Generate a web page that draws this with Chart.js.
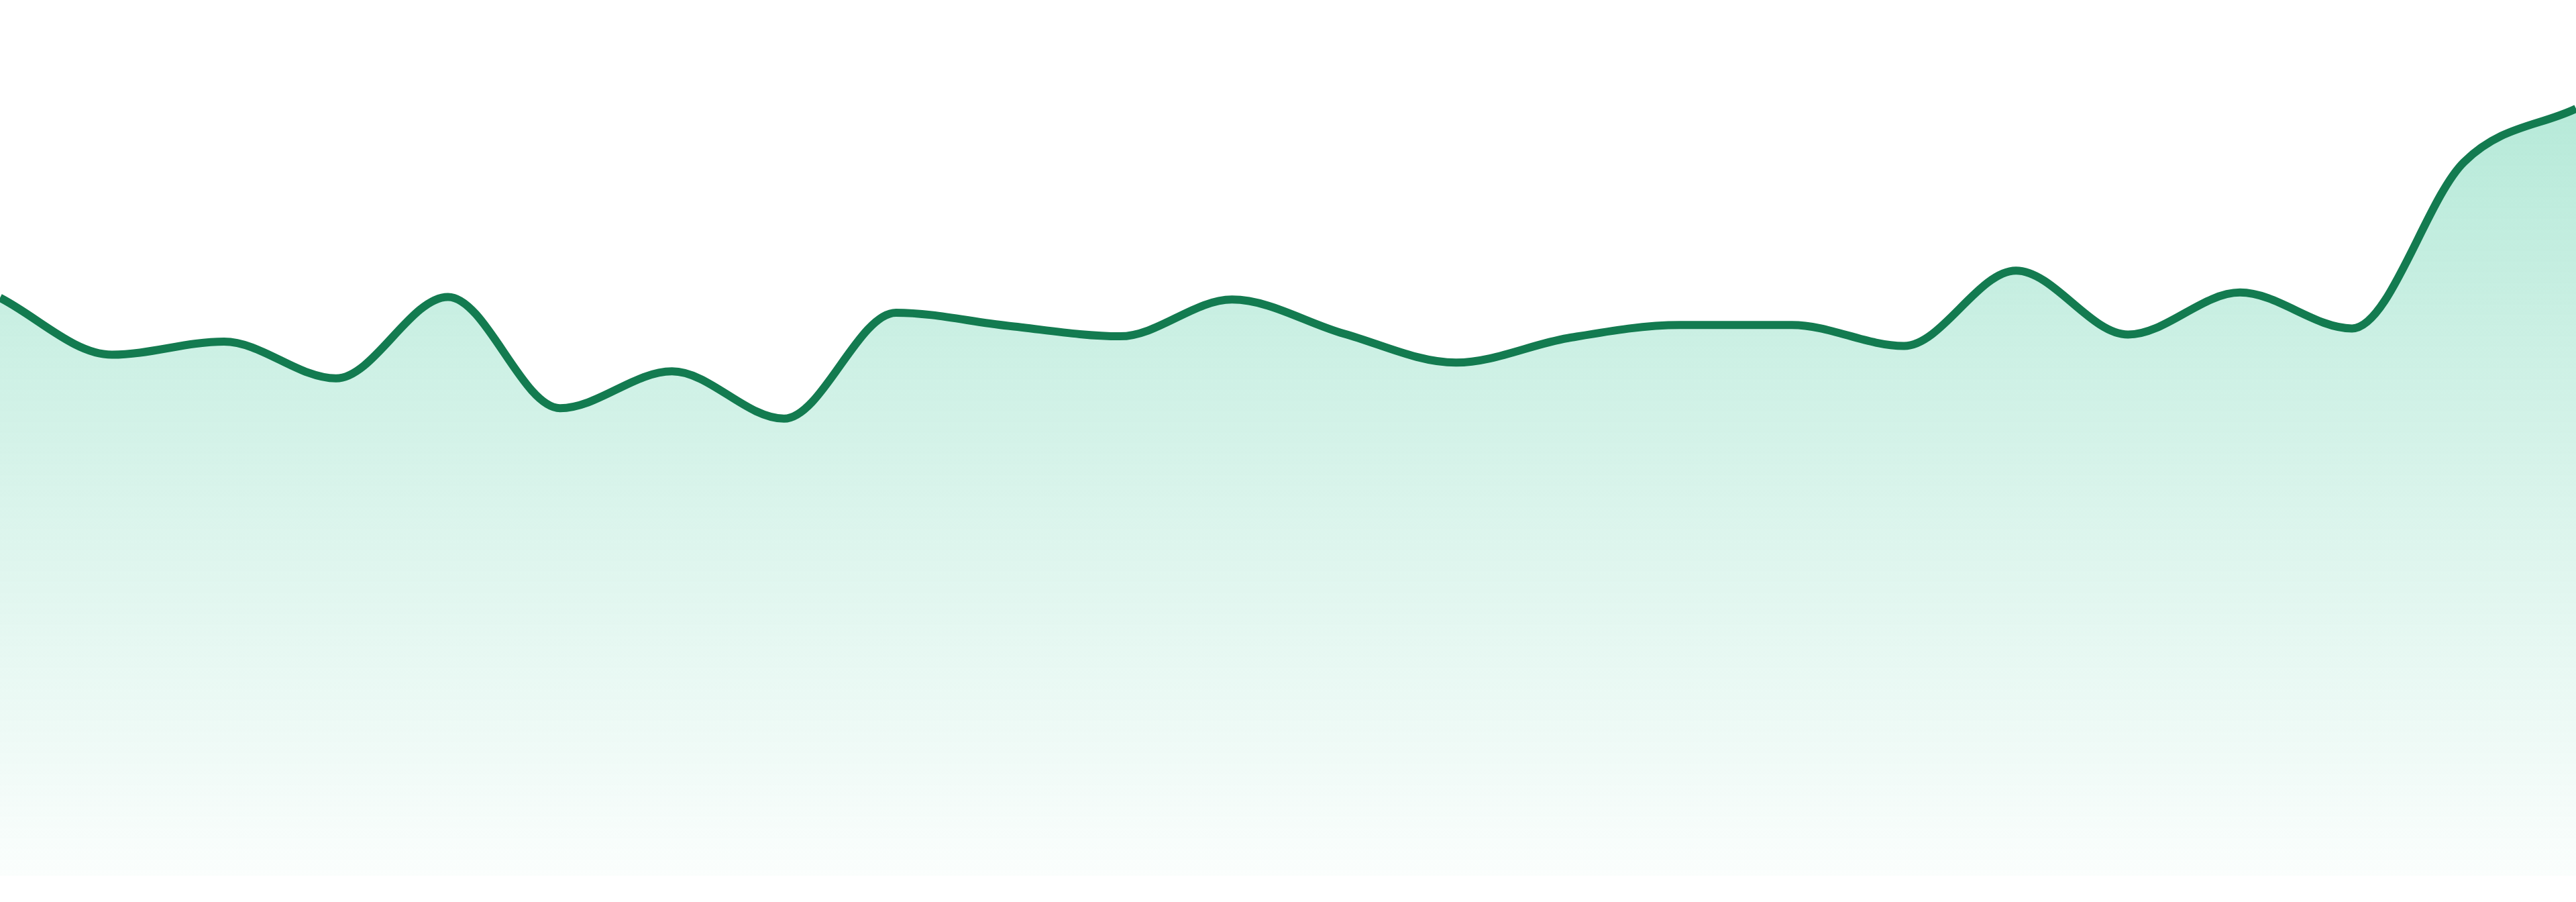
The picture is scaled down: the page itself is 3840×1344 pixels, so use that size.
<!DOCTYPE html>
<html>
<head>
<meta charset="utf-8">
<script src="https://cdn.jsdelivr.net/npm/chart.js@4.4.1/dist/chart.umd.min.js"></script>
<style>
  html, body { margin: 0; padding: 0; background: #ffffff; }
  #wrap { width: 3840px; height: 1344px; }
</style>
</head>
<body>
<div id="wrap"><canvas id="c" width="3840" height="1344"></canvas></div>
<script>
const labels = ["1","2","3","4","5","6","7","8","9","10","11","12","13","14","15","16","17","18","19","20","21","22","23","24"];
const values = [66.0, 59.5, 61.0, 56.8, 66.1, 53.4, 57.6, 52.2, 64.3, 62.8, 61.6, 65.8,
                61.9, 58.6, 61.4, 62.9, 62.9, 60.5, 69.1, 61.8, 66.6, 62.5, 81.5, 87.6];
const yMin = 0;
const yMax = 100;

const ctx = document.getElementById('c').getContext('2d');
new Chart(ctx, {
  type: 'line',
  data: {
    labels: labels,
    datasets: [{
      data: values,
      borderColor: '#137b50',
      borderWidth: 12,
      pointRadius: 0,
      cubicInterpolationMode: 'monotone',
      fill: 'start',
      backgroundColor: function(context) {
        const chart = context.chart;
        const area = chart.chartArea;
        if (!area) return 'rgba(16,185,129,0.2)';
        const g = chart.ctx.createLinearGradient(0, area.top, 0, area.bottom);
        g.addColorStop(0, 'rgba(16,185,129,0.34)');
        g.addColorStop(1, 'rgba(16,185,129,0.02)');
        return g;
      }
    }]
  },
  options: {
    responsive: false,
    devicePixelRatio: 1,
    animation: false,
    layout: { padding: { top: 0, bottom: 39, left: 0, right: 0 } },
    plugins: { legend: { display: false }, tooltip: { enabled: false } },
    scales: {
      x: { display: false, offset: false },
      y: { display: false, min: yMin, max: yMax }
    }
  }
});
</script>
</body>
</html>
